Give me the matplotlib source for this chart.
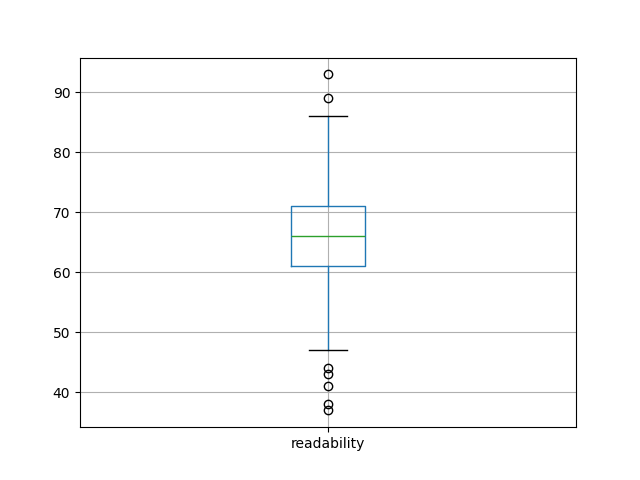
import matplotlib
matplotlib.use("Agg")
import matplotlib.pyplot as plt

label = "readability"
q1 = 61
median = 66
q3 = 71
whisker_low = 47
whisker_high = 86
fliers = [93, 89, 44, 43, 41, 38, 37]

stats = [{
    "label": label,
    "q1": q1,
    "med": median,
    "q3": q3,
    "whislo": whisker_low,
    "whishi": whisker_high,
    "fliers": fliers,
}]

fig, ax = plt.subplots(figsize=(6.4, 4.8), dpi=100)
ax.bxp(stats,
       boxprops=dict(color="C0"),
       whiskerprops=dict(color="C0"),
       medianprops=dict(color="C2"),
       capprops=dict(color="k"),
       flierprops=dict(marker="o", markeredgecolor="k"))
ax.grid(True)
fig.savefig("out.png")
